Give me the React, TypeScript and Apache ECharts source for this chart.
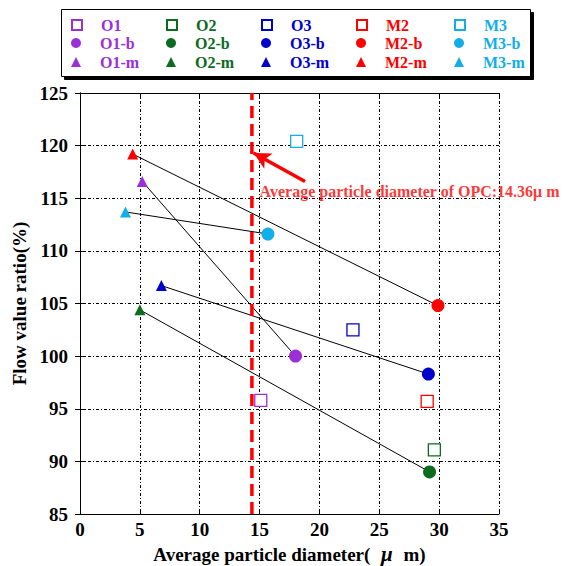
import React, { useEffect, useRef } from "react";
import * as echarts from "echarts";

const FONT = "'Liberation Serif', 'Times New Roman', serif";

const groupNames = ["O1", "O2", "O3", "M2", "M3"];
const groupColors = ["#9B30D9", "#0B6B1E", "#0000CD", "#FF0000", "#12AEEA"];
const suffixes = ["", "-b", "-m"];
// original sample (open square)
const originalPoints: number[][] = [[15.1, 95.8], [29.6, 91.1], [22.8, 102.5], [29.0, 95.7], [18.1, 120.4]];
// "-b" sample (filled circle)
const bPoints: number[][] = [[18.0, 100.0], [29.2, 89.0], [29.1, 98.3], [29.9, 104.8], [15.7, 111.6]];
// "-m" sample (filled triangle)
const mPoints: number[][] = [[5.2, 116.6], [5.0, 104.4], [6.8, 106.7], [4.4, 119.2], [3.8, 113.7]];

const opcDiameter = 14.36;
const arrowTail = [18.8, 116.6];
const arrowHead = [14.5, 119.3];
const annotationAt = [15.0, 115.6];
const annotationText = "Average particle diameter of OPC:14.36μ m";

const xMin = 0, xMax = 35, xStep = 5;
const yMin = 85, yMax = 125, yStep = 5;

const legendColLeft = [71, 166, 261, 356, 454];
const legendRowTop = [17, 35, 54];

export default function App() {
  const ref = useRef<HTMLDivElement>(null);
  useEffect(() => {
    if (!ref.current) return;
    const chart = echarts.init(ref.current, null, { renderer: "svg" });

    const series: any[] = [];
    groupNames.forEach((g, i) => {
      series.push({
        name: g + "-line",
        type: "line",
        data: [mPoints[i], bPoints[i]],
        symbol: "none",
        lineStyle: { color: "#000", width: 1 },
        z: 2,
        silent: true,
      });
    });
    groupNames.forEach((g, i) => {
      series.push({
        name: g,
        type: "scatter",
        data: [originalPoints[i]],
        symbol: "rect",
        symbolSize: 12,
        itemStyle: { color: "#fff", borderColor: groupColors[i], borderWidth: 1.3, opacity: 1 },
        z: 5,
      });
    });
    groupNames.forEach((g, i) => {
      series.push({
        name: g + "-b",
        type: "scatter",
        data: [bPoints[i]],
        symbol: "circle",
        symbolSize: 13,
        itemStyle: { color: groupColors[i], opacity: 1 },
        z: 5,
      });
    });
    groupNames.forEach((g, i) => {
      series.push({
        name: g + "-m",
        type: "scatter",
        data: [mPoints[i]],
        symbol: "triangle",
        symbolSize: 11,
        itemStyle: { color: groupColors[i], opacity: 1 },
        z: 5,
      });
    });
    series.push({
      name: "OPC",
      type: "line",
      data: [[opcDiameter, yMin], [opcDiameter, yMax]],
      symbol: "none",
      lineStyle: { color: "#FF0000", width: 3.5, type: [12, 6] },
      z: 4,
      silent: true,
      markLine: {
        silent: true,
        symbol: ["none", "arrow"],
        symbolSize: [13, 17],
        lineStyle: { color: "#FF0000", width: 3.5, type: "solid" },
        label: { show: false },
        data: [[{ coord: arrowTail }, { coord: arrowHead }]],
      },
    });
    series.push({
      name: "annotation",
      type: "scatter",
      data: [annotationAt],
      symbolSize: 0,
      silent: true,
      label: {
        show: true,
        position: "right",
        distance: 0,
        formatter: annotationText,
        color: "#FF0000",
        fontFamily: FONT,
        fontWeight: "bold",
        fontSize: 16,
      },
      z: 6,
    });

    const legends: any[] = [];
    suffixes.forEach((s, r) => {
      groupNames.forEach((g, c) => {
        legends.push({
          show: true,
          orient: "horizontal",
          left: legendColLeft[c],
          top: legendRowTop[r],
          padding: 0,
          itemWidth: 10,
          itemHeight: 10,
          selectedMode: false,
          data: [{ name: g + s }],
          textStyle: {
            fontFamily: FONT,
            fontWeight: "bold",
            fontSize: 16,
            color: groupColors[c],
            padding: [0, 0, 0, 14],
          },
        });
      });
    });

    const commonAxisLine = { show: true, lineStyle: { color: "#000", width: 1 } };
    const gridSplit = { show: true, lineStyle: { color: "#000", width: 1, type: [3, 2, 1, 2] } };
    const tick = { show: true, inside: true, length: 5, lineStyle: { color: "#000" } };
    const labelFont = { fontFamily: FONT, fontWeight: "bold", fontSize: 19, color: "#000" };

    chart.setOption({
      animation: false,
      backgroundColor: "#fff",
      grid: { left: 80, right: 76, top: 93, bottom: 52, show: false, containLabel: false, outerBoundsMode: "none" },
      legend: legends,
      graphic: [
        {
          type: "rect",
          left: 61,
          top: 9,
          shape: { width: 469, height: 67 },
          style: { fill: "#fff", stroke: "#000", lineWidth: 1, shadowColor: "#000", shadowOffsetX: 3, shadowOffsetY: 3, shadowBlur: 0 },
          z: -1,
          silent: true,
        },
      ],
      xAxis: [
        {
          type: "value",
          min: xMin,
          max: xMax,
          interval: xStep,
          position: "bottom",
          name: "Average particle diameter( {mu|μ} m)",
          nameLocation: "middle",
          nameGap: 26,
          nameTextStyle: {
            ...labelFont,
            rich: {
              mu: { ...labelFont, fontStyle: "italic", fontSize: 21, padding: [0, 6, 0, 6] },
            },
          },
          axisLine: commonAxisLine,
          axisTick: tick,
          axisLabel: { ...labelFont, margin: 6 },
          splitLine: gridSplit,
        },
        {
          type: "value",
          min: xMin,
          max: xMax,
          interval: xStep,
          position: "top",
          axisLine: commonAxisLine,
          axisTick: tick,
          axisLabel: { show: false },
          splitLine: { show: false },
        },
      ],
      yAxis: [
        {
          type: "value",
          min: yMin,
          max: yMax,
          interval: yStep,
          position: "left",
          name: "Flow value ratio(%)",
          nameLocation: "middle",
          nameGap: 42,
          nameTextStyle: labelFont,
          axisLine: commonAxisLine,
          axisTick: tick,
          axisLabel: { ...labelFont, margin: 12 },
          splitLine: gridSplit,
        },
        {
          type: "value",
          min: yMin,
          max: yMax,
          interval: yStep,
          position: "right",
          axisLine: commonAxisLine,
          axisTick: tick,
          axisLabel: { show: false },
          splitLine: { show: false },
        },
      ],
      series,
    });
    return () => chart.dispose();
  }, []);
  return <div ref={ref} style={{ width: 575, height: 566, position: "absolute", left: 0, top: 0 }} />;
}
